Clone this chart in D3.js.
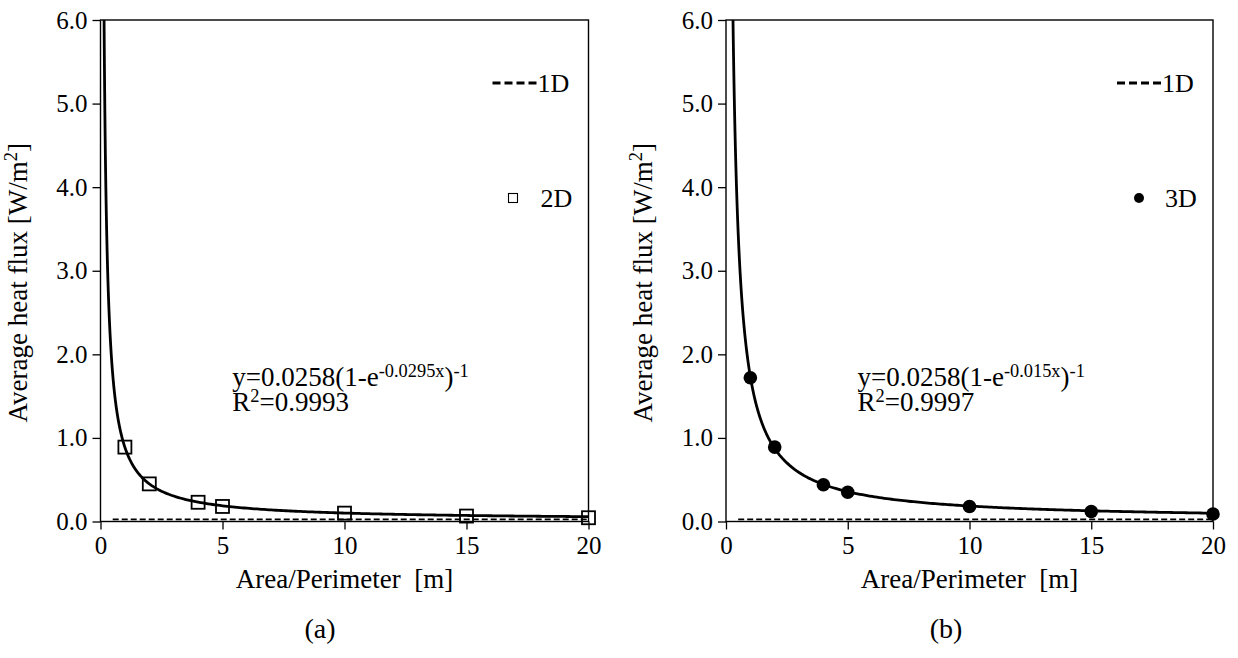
<!DOCTYPE html>
<html>
<head>
<meta charset="utf-8">
<script src="https://cdn.jsdelivr.net/npm/d3@7"></script>
<style>
  html, body { margin: 0; padding: 0; background: #fff; }
  svg { display: block; }
  text { font-family: "Liberation Serif", "Times New Roman", serif; fill: #000; }
</style>
</head>
<body>
<svg id="chart" width="1238" height="658"></svg>
<script>
// Area/Perimeter values of the simulated cases [m]
const areaPerimeter = [1, 2, 4, 5, 10, 15, 20];
// Average heat flux [W/m²] from the 2D and 3D models
const flux2D = [0.89, 0.45, 0.23, 0.18, 0.10, 0.065, 0.045];
const flux3D = [1.72, 0.89, 0.44, 0.35, 0.18, 0.12, 0.09];
// 1D reference flux, drawn as a horizontal dashed line
const flux1D = 0.0258;
const flux1DRange = [0.5, 20];
// Fitted curves y = a(1 - e^(-b x))^-1
const fitA = 0.0258;
const fitB2D = 0.0295;
const fitB3D = 0.015;
const fitR2_2D = "0.9993";
const fitR2_3D = "0.9997";
// Axis ticks
const xTicks = [0, 5, 10, 15, 20];
const yTicks = [0, 1, 2, 3, 4, 5, 6];

const svg = d3.select("#chart");
const TICK_FS = 25, TITLE_FS = 27, EQ_FS = 27, LEG_FS = 26, CAP_FS = 28;

const panels = [
  { id: "a", left: 100.5, right: 588.5, values: flux2D, marker: "square", name: "2D",
    b: fitB2D, bText: "0.0295", r2: fitR2_2D, caption: "(a)", captionX: 320 },
  { id: "b", left: 726, right: 1213, values: flux3D, marker: "circle", name: "3D",
    b: fitB3D, bText: "0.015", r2: fitR2_3D, caption: "(b)", captionX: 946 }
];

const plotTop = 20, plotBottom = 521.5;

function sup(textSel, str, fs, dy) {
  textSel.append("tspan").attr("font-size", fs * 0.68).attr("dy", -dy).text(str);
}

panels.forEach(p => {
  const x = d3.scaleLinear().domain([0, 20]).range([p.left, p.right]);
  const y = d3.scaleLinear().domain([0, 6]).range([plotBottom, plotTop]);
  const g = svg.append("g");

  g.append("clipPath").attr("id", "clip-" + p.id)
    .append("rect").attr("x", p.left).attr("y", plotTop)
    .attr("width", p.right - p.left).attr("height", plotBottom - plotTop);

  // axes
  const yAxis = d3.axisLeft(y).tickValues(yTicks).tickFormat(d3.format(".1f"))
    .tickSize(8).tickSizeOuter(0).tickPadding(5);
  const xAxis = d3.axisBottom(x).tickValues(xTicks).tickFormat(d3.format("d"))
    .tickSize(8).tickSizeOuter(0).tickPadding(7);

  const ya = g.append("g").attr("transform", `translate(${p.left},0)`).call(yAxis);
  const xa = g.append("g").attr("transform", `translate(0,${plotBottom})`).call(xAxis);
  [ya, xa].forEach(a => {
    a.attr("font-family", null).attr("font-size", null);
    a.selectAll("path").remove();
    a.selectAll("line").attr("stroke", "#000").attr("stroke-width", 1.3);
    a.selectAll("text").attr("font-size", TICK_FS).attr("fill", "#000");
  });

  // plot frame
  g.append("rect").attr("x", p.left).attr("y", plotTop)
    .attr("width", p.right - p.left).attr("height", plotBottom - plotTop)
    .attr("fill", "none").attr("stroke", "#000").attr("stroke-width", 1.4);

  const plot = g.append("g").attr("clip-path", `url(#clip-${p.id})`);

  // 1D reference line
  plot.append("line")
    .attr("x1", x(flux1DRange[0])).attr("x2", x(flux1DRange[1]))
    .attr("y1", y(flux1D)).attr("y2", y(flux1D))
    .attr("stroke", "#000").attr("stroke-width", 1.6).attr("stroke-dasharray", "6,3");

  // fitted curve
  const xs = [];
  for (let v = 0.05; v <= 2; v += 0.01) xs.push(v);
  for (let v = 2; v <= 20.0001; v += 0.1) xs.push(v);
  const fit = v => fitA / (1 - Math.exp(-p.b * v));
  plot.append("path")
    .datum(xs.map(v => [v, Math.min(fit(v), 50)]))
    .attr("d", d3.line().x(d => x(d[0])).y(d => y(d[1])))
    .attr("fill", "none").attr("stroke", "#000").attr("stroke-width", 2.8);

  // model points
  const pts = g.append("g");
  const data = areaPerimeter.map((v, i) => [v, p.values[i]]);
  if (p.marker === "square") {
    const s = 13;
    pts.selectAll("rect").data(data).join("rect")
      .attr("x", d => x(d[0]) - s / 2).attr("y", d => y(d[1]) - s / 2)
      .attr("width", s).attr("height", s)
      .attr("fill", "none").attr("stroke", "#000").attr("stroke-width", 1.8);
  } else {
    pts.selectAll("circle").data(data).join("circle")
      .attr("cx", d => x(d[0])).attr("cy", d => y(d[1])).attr("r", 6.8)
      .attr("fill", "#000");
  }

  // legend
  const lx = p.right;
  g.append("line").attr("x1", lx - 96).attr("x2", lx - 51).attr("y1", 83).attr("y2", 83)
    .attr("stroke", "#000").attr("stroke-width", 3).attr("stroke-dasharray", "8,4");
  g.append("text").attr("x", lx - 51).attr("y", 92).attr("font-size", LEG_FS).text("1D");
  if (p.marker === "square") {
    g.append("rect").attr("x", lx - 80).attr("y", 193.5).attr("width", 9).attr("height", 9)
      .attr("fill", "none").attr("stroke", "#000").attr("stroke-width", 1.1);
  } else {
    g.append("circle").attr("cx", lx - 74).attr("cy", 198).attr("r", 5).attr("fill", "#000");
  }
  g.append("text").attr("x", lx - 48).attr("y", 207).attr("font-size", LEG_FS).text(p.name);

  // fit equation
  const ex = x(5.4);
  const eq = g.append("text").attr("x", ex).attr("y", 386).attr("font-size", EQ_FS);
  eq.append("tspan").text("y=" + fitA + "(1-e");
  sup(eq, "-" + p.bText + "x", EQ_FS, 9);
  eq.append("tspan").attr("dy", 9).text(")");
  sup(eq, "-1", EQ_FS, 9);
  const r2 = g.append("text").attr("x", ex).attr("y", 411).attr("font-size", EQ_FS);
  r2.append("tspan").text("R");
  sup(r2, "2", EQ_FS, 9);
  r2.append("tspan").attr("dy", 9).text("=" + p.r2);

  // axis titles
  g.append("text").attr("x", (p.left + p.right) / 2).attr("y", 588)
    .attr("text-anchor", "middle").attr("font-size", TITLE_FS)
    .attr("xml:space", "preserve").text("Area/Perimeter  [m]");
  const yt = g.append("text")
    .attr("transform", `translate(${p.left - 74},${(plotTop + plotBottom) / 2 + 12}) rotate(-90)`)
    .attr("text-anchor", "middle").attr("font-size", TITLE_FS);
  yt.append("tspan").text("Average heat flux [W/m");
  sup(yt, "2", TITLE_FS, 10);
  yt.append("tspan").attr("dy", 10).text("]");

  // panel caption
  g.append("text").attr("x", p.captionX).attr("y", 638).attr("text-anchor", "middle")
    .attr("font-size", CAP_FS).text(p.caption);
});
</script>
</body>
</html>
